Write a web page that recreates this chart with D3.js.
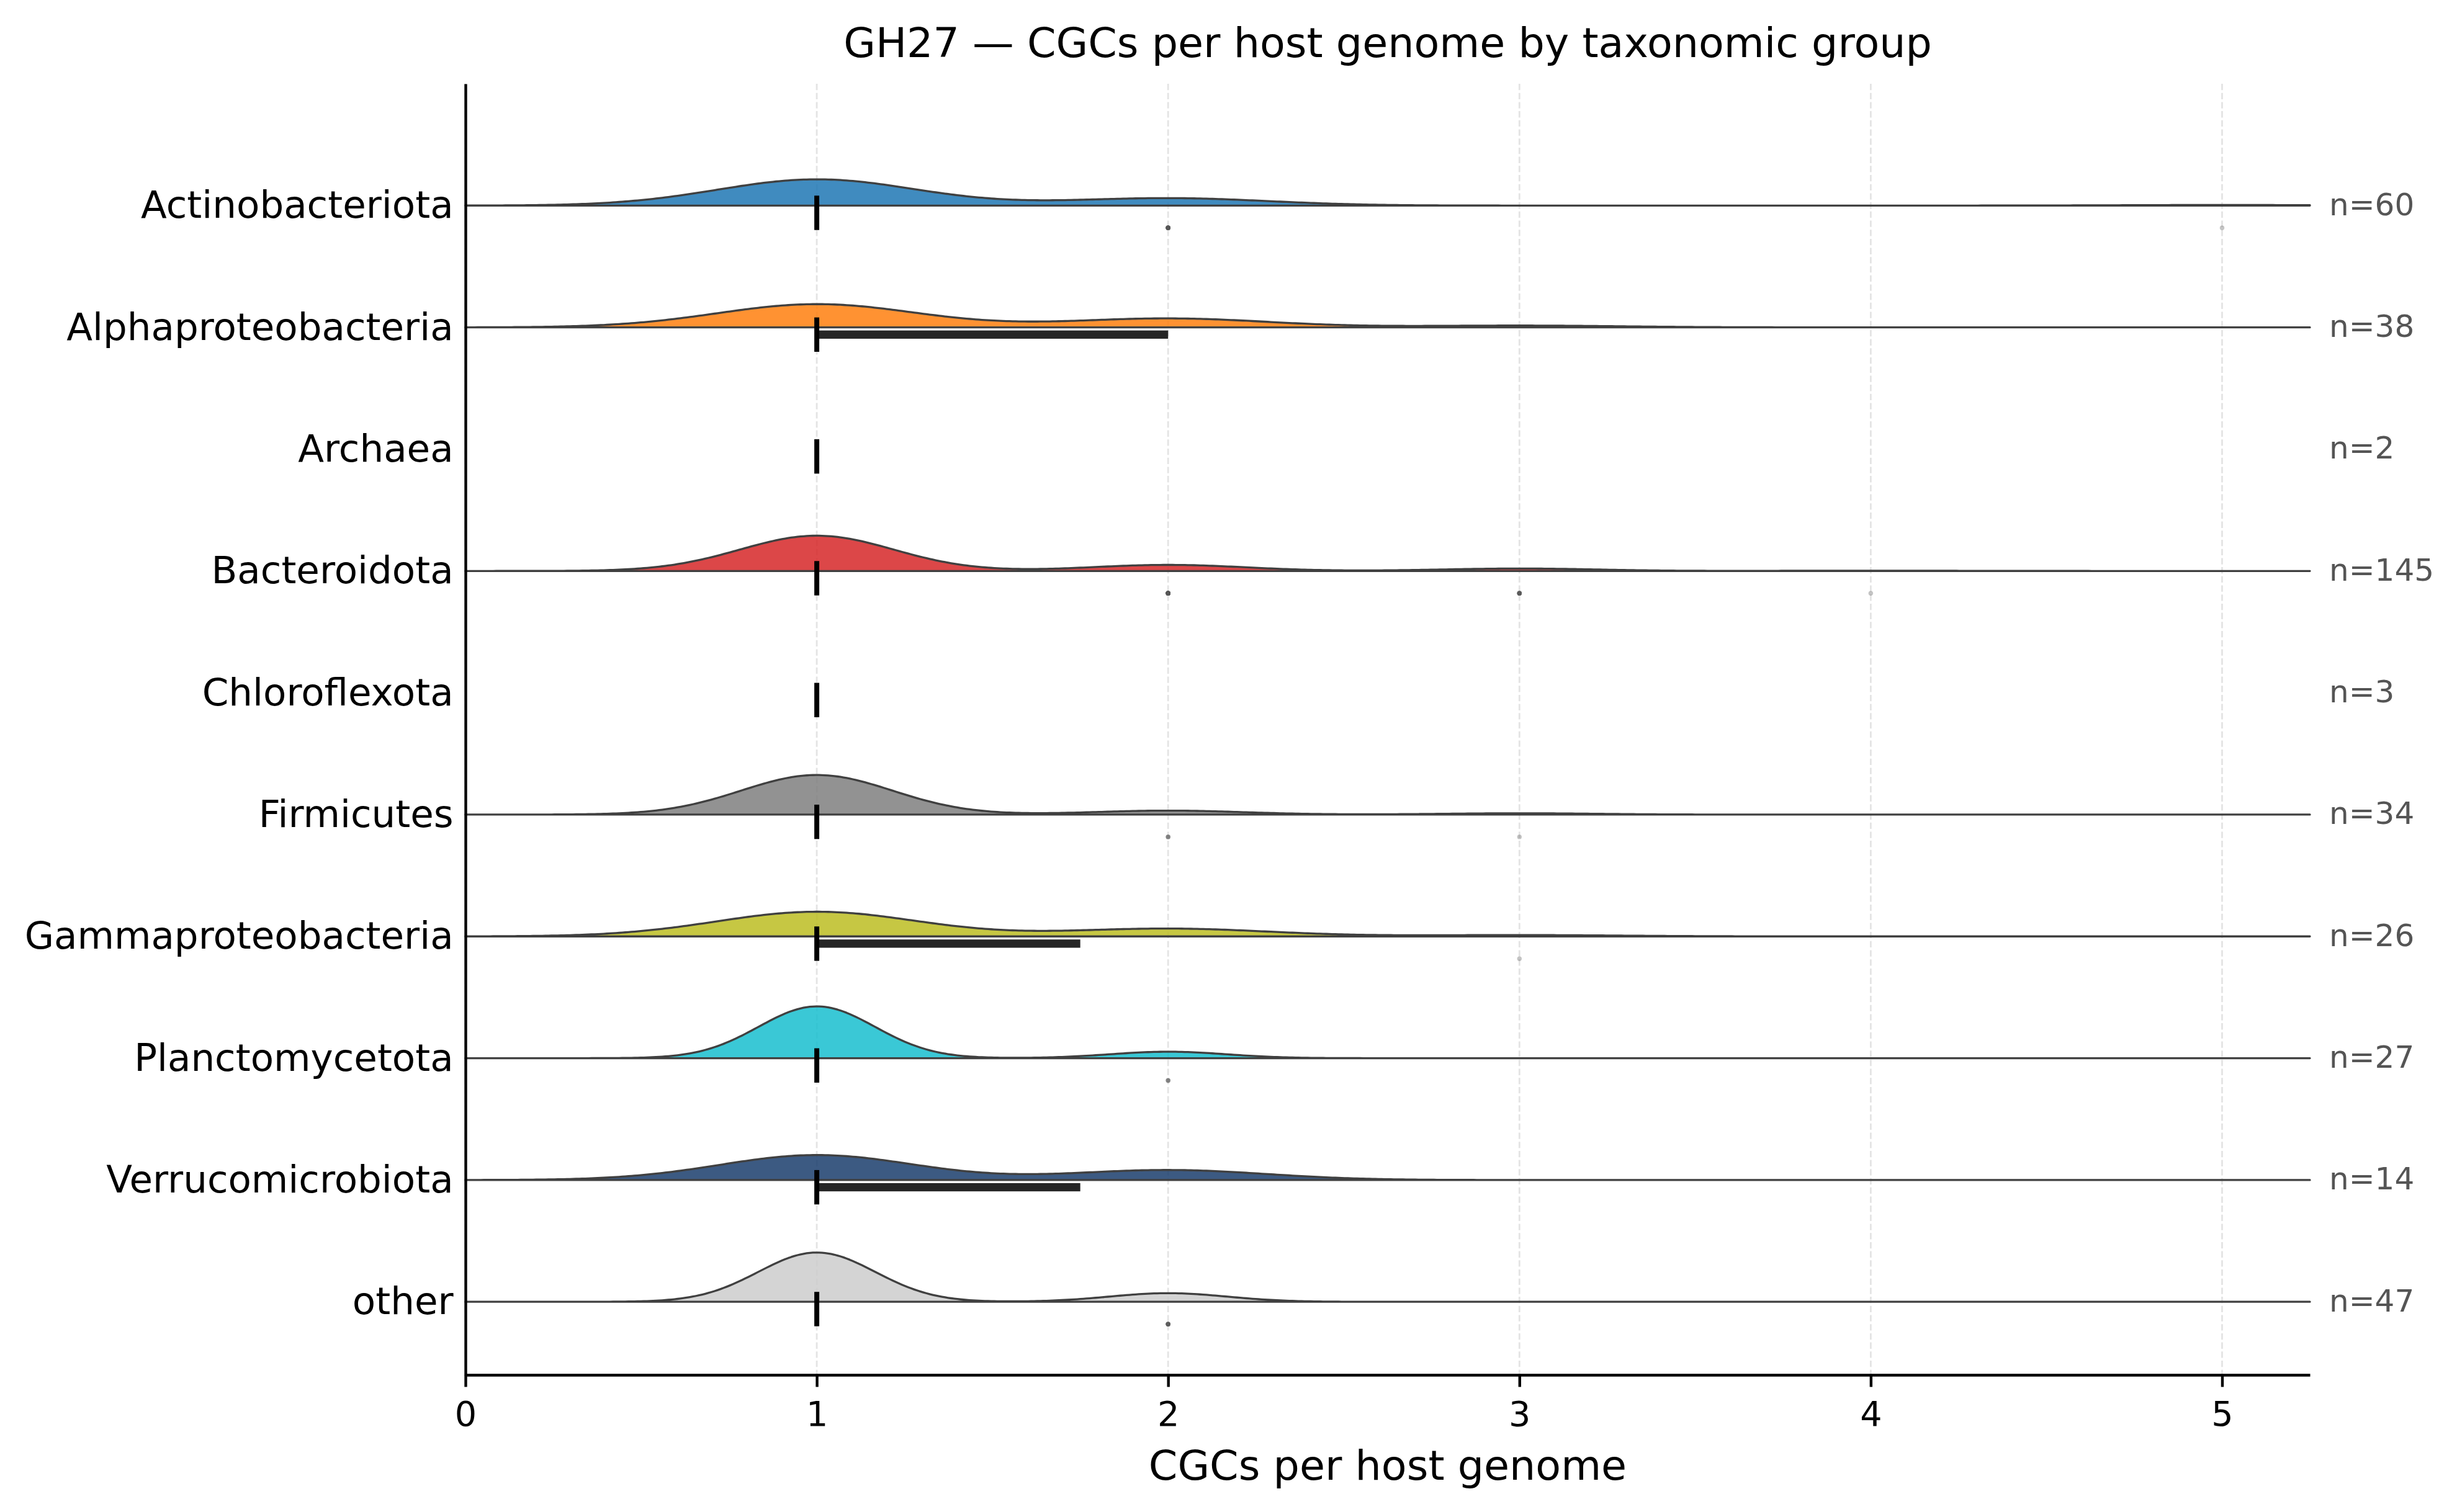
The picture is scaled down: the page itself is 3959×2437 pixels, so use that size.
<!DOCTYPE html>
<html>
<head>
<meta charset="utf-8">
<script src="https://cdn.jsdelivr.net/npm/d3@7"></script>
<style>
  body { margin: 0; background: #fff; }
  svg { display: block; }
  text { font-family: "DejaVu Sans", sans-serif; }
</style>
</head>
<body>
<svg id="chart" width="3959" height="2437"></svg>
<script>
// taxonomic groups, top to bottom
const groups = [
  "Actinobacteriota", "Alphaproteobacteria", "Archaea", "Bacteroidota",
  "Chloroflexota", "Firmicutes", "Gammaproteobacteria", "Planctomycetota",
  "Verrucomicrobiota", "other"
];
// number of host genomes with 1, 2, 3, 4, 5 CGCs
const cgcValues = [1, 2, 3, 4, 5];
const withOne   = [46, 26, 2, 116, 3, 30, 19, 24, 10, 40];
const withTwo   = [13, 10, 0,  20, 0,  3,  6,  3,  4,  7];
const withThree = [ 0,  2, 0,   8, 0,  1,  1,  0,  0,  0];
const withFour  = [ 0,  0, 0,   1, 0,  0,  0,  0,  0,  0];
const withFive  = [ 1,  0, 0,   0, 0,  0,  0,  0,  0,  0];
const groupColors = [
  "#1f77b4", "#ff7f0e", "#2ca02c", "#d62728", "#9467bd",
  "#7f7f7f", "#bcbd22", "#17becf", "#1a3d6c", "#cccccc"
];
const xTicks = [0, 1, 2, 3, 4, 5];

const svg = d3.select("#chart");
const plotLeft = 750, plotRight = 3722, plotTop = 135, plotBottom = 2216;

let x = d3.scaleLinear().domain([0, 5.25]).range([plotLeft, plotRight]);
let y = d3.scaleLinear().domain([-1, 9.6]).range([plotTop, plotBottom]);
let rowStep = y(1) - y(0);

svg.append("rect").attr("width", 3959).attr("height", 2437).attr("fill", "#fff");

// vertical dashed grid
svg.append("g")
  .selectAll("line")
  .data(xTicks)
  .enter()
  .append("line")
  .attr("x1", d => x(d))
  .attr("x2", d => x(d))
  .attr("y1", plotTop)
  .attr("y2", plotBottom)
  .attr("stroke", "#e4e4e4")
  .attr("stroke-width", 2.8)
  .attr("stroke-dasharray", "10.3,4.4");

// expand counts into samples per group
let rows = groups.map((g, i) => {
  let counts = [withOne[i], withTwo[i], withThree[i], withFour[i], withFive[i]];
  let samples = [];
  counts.forEach((c, k) => {
    for (let m = 0; m < c; m++) samples.push(cgcValues[k]);
  });
  samples.sort(d3.ascending);
  let q1 = d3.quantile(samples, 0.25),
    q3 = d3.quantile(samples, 0.75),
    iqr = q3 - q1;
  return {
    name: g,
    index: i,
    color: groupColors[i],
    samples: samples,
    n: samples.length,
    median: d3.median(samples),
    q1: q1,
    q3: q3,
    outliers: samples.filter(v => v < q1 - 1.5 * iqr || v > q3 + 1.5 * iqr),
  };
});

// gaussian kde, scott bandwidth
let grid = d3.range(0, 601).map(k => (k / 600) * 5.25);
rows.forEach(r => {
  let sd = r.n > 1 ? d3.deviation(r.samples) : 0;
  if (r.n < 5 || !sd) {
    r.density = null;
    return;
  }
  let h = sd * Math.pow(r.n, -0.2);
  let norm = 1 / (r.n * h * Math.sqrt(2 * Math.PI));
  r.density = grid.map(gx => ({
    x: gx,
    d: norm * d3.sum(r.samples, v => Math.exp(-0.5 * ((gx - v) / h) ** 2)),
  }));
});

let maxDensity = d3.max(rows.filter(r => r.density), r => d3.max(r.density, p => p.d));
let ridge = d3.scaleLinear().domain([0, maxDensity]).range([0, 0.425 * rowStep]);

let rowG = svg.append("g")
  .selectAll("g.row")
  .data(rows)
  .enter()
  .append("g")
  .attr("class", "row");

rowG.filter(r => r.density)
  .append("path")
  .attr("d", r => {
    let base = y(r.index);
    return d3.area()
      .x(p => x(p.x))
      .y0(base)
      .y1(p => base - ridge(p.d))(r.density);
  })
  .attr("fill", r => r.color)
  .attr("fill-opacity", 0.85)
  .attr("stroke", "#404040")
  .attr("stroke-width", 3.3)
  .attr("stroke-linejoin", "round");

// IQR bar
rowG.filter(r => r.q3 > r.q1)
  .append("rect")
  .attr("x", r => x(r.q1))
  .attr("width", r => x(r.q3) - x(r.q1))
  .attr("y", r => y(r.index) + 5)
  .attr("height", 13.3)
  .attr("fill", "#262626");

// median tick
rowG.append("line")
  .attr("x1", r => x(r.median))
  .attr("x2", r => x(r.median))
  .attr("y1", r => y(r.index) - 16)
  .attr("y2", r => y(r.index) + 39.4)
  .attr("stroke", "#000")
  .attr("stroke-width", 8);

// outlier points
rowG.selectAll("circle")
  .data(r => r.outliers.map(v => ({ v: v, i: r.index })))
  .enter()
  .append("circle")
  .attr("cx", d => x(d.v))
  .attr("cy", d => y(d.i) + 36)
  .attr("r", 3.7)
  .attr("fill", "#555")
  .attr("fill-opacity", 0.35);

// n labels
rowG.append("text")
  .attr("x", 3753)
  .attr("y", r => y(r.index))
  .attr("dy", "0.31em")
  .attr("font-size", 50)
  .attr("fill", "#555")
  .text(r => "n=" + r.n);

// axes
let xAxis = svg.append("g")
  .attr("transform", `translate(0,${plotBottom})`)
  .call(d3.axisBottom(x).tickValues(xTicks).tickFormat(d3.format("d"))
    .tickSize(19.4).tickSizeOuter(0).tickPadding(23));
xAxis.select(".domain").attr("stroke", "#000").attr("stroke-width", 4.4);
xAxis.selectAll(".tick line").attr("stroke", "#000").attr("stroke-width", 4.4);
xAxis.selectAll(".tick text")
  .attr("font-size", 55.6)
  .attr("font-family", "DejaVu Sans")
  .attr("fill", "#000");

let yAxis = svg.append("g")
  .attr("transform", `translate(${plotLeft},0)`)
  .call(d3.axisLeft(y).tickValues(d3.range(groups.length)).tickFormat(i => groups[i])
    .tickSize(0).tickSizeOuter(0).tickPadding(19.4));
yAxis.select(".domain").attr("stroke", "#000").attr("stroke-width", 4.4);
yAxis.selectAll(".tick text")
  .attr("font-size", 61.1)
  .attr("font-family", "DejaVu Sans")
  .attr("fill", "#000");

svg.append("text")
  .attr("x", (plotLeft + plotRight) / 2)
  .attr("y", 92)
  .attr("text-anchor", "middle")
  .attr("font-size", 66.7)
  .attr("fill", "#000")
  .text("GH27 — CGCs per host genome by taxonomic group");

svg.append("text")
  .attr("x", (plotLeft + plotRight) / 2)
  .attr("y", 2385)
  .attr("text-anchor", "middle")
  .attr("font-size", 66.7)
  .attr("fill", "#000")
  .text("CGCs per host genome");
</script>
</body>
</html>
